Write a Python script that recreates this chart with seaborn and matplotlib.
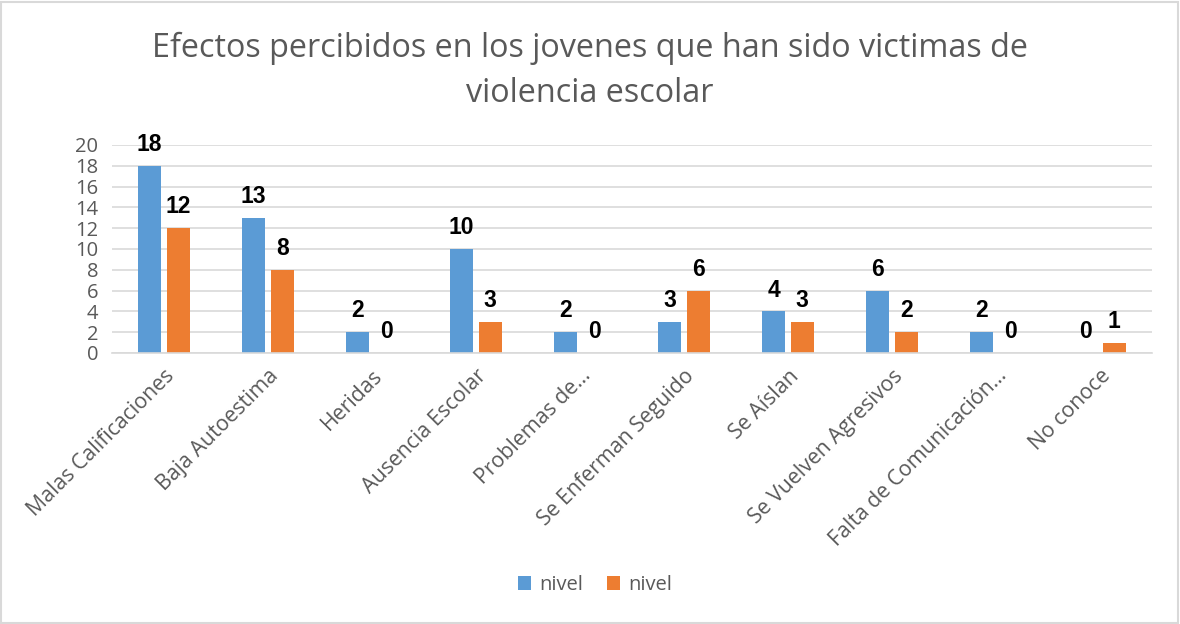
import matplotlib
matplotlib.use("Agg")
import matplotlib.pyplot as plt
import seaborn as sns
import pandas as pd
from matplotlib.patches import Rectangle

categories = ["Malas Calificaciones", "Baja Autoestima", "Heridas", "Ausencia Escolar",
              "Problemas de...", "Se Enferman Seguido", "Se Aíslan",
              "Se Vuelven Agresivos", "Falta de Comunicación...", "No conoce"]
serie1 = [18, 13, 2, 10, 2, 3, 4, 6, 2, 0]
serie2 = [12, 8, 0, 3, 0, 6, 3, 2, 0, 1]
series_names = ["nivel", "nivel"]
yticks = [0, 2, 4, 6, 8, 10, 12, 14, 16, 18, 20]
title = "Efectos percibidos en los jovenes que han sido victimas de\nviolencia escolar"

colors = ["#5B9BD5", "#ED7D31"]

df = pd.DataFrame({
    "cat": categories * 2,
    "val": serie1 + serie2,
    "serie": ["s1"] * len(categories) + ["s2"] * len(categories),
})

sns.set_theme(style="white")
plt.rcParams["font.family"] = ["Open Sans", "DejaVu Sans"]

fig = plt.figure(figsize=(11.8, 6.24), dpi=100)
ax = fig.add_axes([112 / 1180, 1 - 353 / 624, 1040 / 1180, 208 / 624])

sns.barplot(data=df, x="cat", y="val", hue="serie", palette=colors,
            width=0.55, gap=0.2, ax=ax, saturation=1, legend=True, linewidth=0)

ax.set_ylim(0, 20)
ax.set_xlim(-0.5, len(categories) - 0.5)
ax.set_yticks(yticks)
ax.set_yticklabels([str(t) for t in yticks], fontsize=14.5, color="#595959")
ax.yaxis.grid(True, color="#d9d9d9", linewidth=1.2)
ax.set_axisbelow(True)
ax.set_xlabel("")
ax.set_ylabel("")
for s in ["top", "right", "left"]:
    ax.spines[s].set_visible(False)
ax.spines["bottom"].set_color("#d9d9d9")
ax.spines["bottom"].set_linewidth(1.2)
ax.tick_params(axis="x", length=0, pad=9)
ax.tick_params(axis="y", length=0, pad=10)
for lbl in ax.get_xticklabels():
    lbl.set_rotation(45)
    lbl.set_ha("right")
    lbl.set_rotation_mode("anchor")
    lbl.set_fontsize(15.3)
    lbl.set_color("#595959")

for cont in ax.containers:
    ax.bar_label(cont, fmt="%d", padding=7, fontsize=16.5, fontweight="bold",
                 family="Liberation Sans", color="black")

leg = ax.get_legend()
handles = leg.legend_handles
leg.remove()
fig.legend(handles, series_names, loc="center", bbox_to_anchor=(595 / 1180, 1 - 585 / 624),
           ncol=2, frameon=False, fontsize=14.5, handlelength=0.65, handleheight=0.65,
           handletextpad=0.4, columnspacing=1.2, labelcolor="#595959")

fig.text(590 / 1180, 1 - 71 / 624, title, ha="center", va="center", fontsize=23.3,
         color="#595959", linespacing=1.5)

fig.patches.append(Rectangle((0.001, 0.002), 0.997, 0.995, transform=fig.transFigure,
                             fill=False, edgecolor="#d9d9d9", linewidth=1.5))

fig.savefig("out.png", dpi=100)
